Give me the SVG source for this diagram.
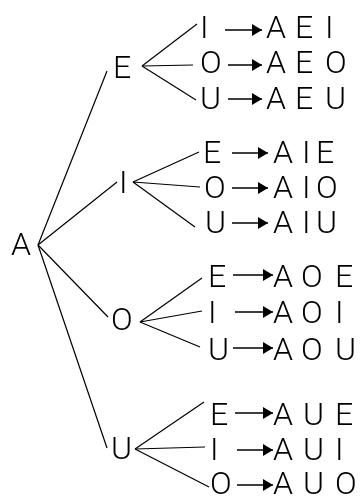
<svg xmlns="http://www.w3.org/2000/svg" width="361" height="497" viewBox="0 0 361 497">
  <style>
    text { font-family: Roboto, "Liberation Sans", sans-serif; font-weight: 300; font-size: 32px; fill: #000; }
    .labels { filter: grayscale(1); }
    .edge { stroke: #000; stroke-width: 1.2; fill: none; }
    .arrow { stroke: #000; stroke-width: 1.5; fill: none; marker-end: url(#head); }
  </style>
  <defs>
    <marker id="head" markerWidth="10" markerHeight="12" refX="10" refY="6" orient="auto" markerUnits="userSpaceOnUse">
      <path d="M0,0 L10,6 L0,12 Z" fill="#000"/>
    </marker>
  </defs>

  <!-- tree branches -->
  <g id="connectors">
    <line class="edge" x1="38" y1="245" x2="107" y2="71"/>
    <line class="edge" x1="38" y1="245" x2="117" y2="182"/>
    <line class="edge" x1="38" y1="245" x2="108" y2="317"/>
    <line class="edge" x1="38" y1="245" x2="107" y2="448"/>

    <line class="edge" x1="142" y1="66" x2="197" y2="24"/>
    <line class="edge" x1="142" y1="66" x2="193" y2="65"/>
    <line class="edge" x1="142" y1="66" x2="196" y2="100"/>

    <line class="edge" x1="133" y1="182" x2="199" y2="152"/>
    <line class="edge" x1="133" y1="182" x2="200" y2="187"/>
    <line class="edge" x1="133" y1="182" x2="195" y2="227"/>

    <line class="edge" x1="140" y1="322" x2="202" y2="278"/>
    <line class="edge" x1="140" y1="322" x2="202" y2="311"/>
    <line class="edge" x1="140" y1="322" x2="200" y2="347"/>

    <line class="edge" x1="135" y1="449" x2="204" y2="402"/>
    <line class="edge" x1="135" y1="449" x2="205" y2="447"/>
    <line class="edge" x1="135" y1="449" x2="209" y2="487"/>

    <line class="arrow" x1="225" y1="30" x2="262" y2="30"/>
    <line class="arrow" x1="228" y1="65" x2="262" y2="65"/>
    <line class="arrow" x1="228" y1="99" x2="262" y2="99"/>

    <line class="arrow" x1="232" y1="153" x2="268" y2="153"/>
    <line class="arrow" x1="232" y1="188" x2="268" y2="188"/>
    <line class="arrow" x1="232" y1="223" x2="268" y2="223"/>

    <line class="arrow" x1="233" y1="275" x2="273" y2="275"/>
    <line class="arrow" x1="235" y1="312" x2="273" y2="312"/>
    <line class="arrow" x1="233" y1="348" x2="273" y2="348"/>

    <line class="arrow" x1="235" y1="413" x2="273" y2="413"/>
    <line class="arrow" x1="237" y1="450" x2="273" y2="450"/>
    <line class="arrow" x1="237" y1="485" x2="273" y2="485"/>
  </g>

  <g class="labels">
    <!-- root -->
    <g id="root"><text x="11" y="255">A</text></g>

    <!-- second letters -->
    <g id="n-E"><text x="113" y="78">E</text></g>
    <g id="n-I"><text x="119" y="193">I</text></g>
    <g id="n-O"><text x="111" y="330">O</text></g>
    <g id="n-U"><text x="111" y="459">U</text></g>

    <!-- third letters and results -->
    <g id="n-EI"><text x="200" y="38">I</text><text x="266 295 325" y="38">AEI</text></g>
    <g id="n-EO"><text x="200" y="73">O</text><text x="266 295 325" y="73">AEO</text></g>
    <g id="n-EU"><text x="200" y="109">U</text><text x="266 295 325" y="109">AEU</text></g>

    <g id="n-IE"><text x="203" y="163">E</text><text x="273 302 316" y="163">AIE</text></g>
    <g id="n-IO"><text x="204" y="198">O</text><text x="273 302 316" y="198">AIO</text></g>
    <g id="n-IU"><text x="205" y="233">U</text><text x="273 302 316" y="233">AIU</text></g>

    <g id="n-OE"><text x="208" y="287">E</text><text x="273 301 335" y="287">AOE</text></g>
    <g id="n-OI"><text x="208" y="323">I</text><text x="273 301 335" y="323">AOI</text></g>
    <g id="n-OU"><text x="208" y="360">U</text><text x="273 301 335" y="360">AOU</text></g>

    <g id="n-UE"><text x="210" y="425">E</text><text x="273 303 335" y="425">AUE</text></g>
    <g id="n-UI"><text x="210" y="460">I</text><text x="273 303 335" y="460">AUI</text></g>
    <g id="n-UO"><text x="210" y="494">O</text><text x="273 303 335" y="494">AUO</text></g>
  </g>
</svg>
